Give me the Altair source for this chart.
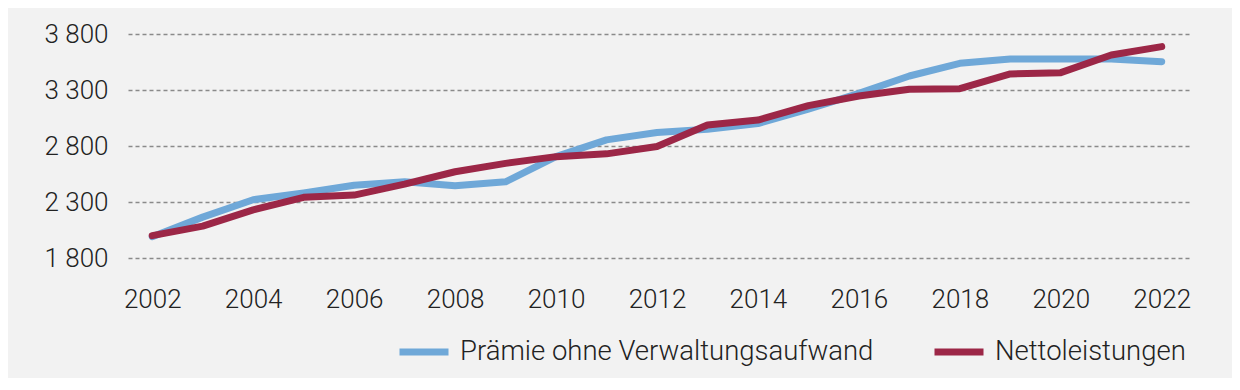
import altair as alt
import pandas as pd

years = list(range(2002, 2023))
praemie = [1990, 2165, 2320, 2380, 2450, 2480, 2445, 2480, 2705, 2855, 2920,
           2950, 3000, 3130, 3270, 3425, 3538, 3577, 3577, 3577, 3553]
netto = [2000, 2085, 2230, 2342, 2362, 2460, 2570, 2645, 2705, 2730, 2795,
         2988, 3032, 3160, 3246, 3306, 3312, 3443, 3455, 3612, 3687]
series_names = ["Prämie ohne Verwaltungsaufwand", "Nettoleistungen"]
series_colors = ["#6fa8d8", "#9c2747"]
x_ticks = list(range(2002, 2023, 2))
y_ticks = [1800, 2300, 2800, 3300, 3800]

rows = []
for i, y in enumerate(years):
    rows.append({"Jahr": y, "Serie": series_names[0], "Wert": praemie[i], "ord": 0})
    rows.append({"Jahr": y, "Serie": series_names[1], "Wert": netto[i], "ord": 1})
df = pd.DataFrame(rows)

FONT = "Roboto"

chart = alt.Chart(df).mark_line(
    strokeWidth=7, strokeCap="round", strokeJoin="round"
).encode(
    x=alt.X("Jahr:Q",
            scale=alt.Scale(domain=[2001.52, 2022.6], nice=False, zero=False),
            axis=alt.Axis(values=x_ticks, format="d", title=None, grid=False,
                          domain=False, ticks=False, labelPadding=28,
                          labelFontSize=26, labelFont=FONT, labelFontWeight=300,
                          labelColor="#222222")),
    y=alt.Y("Wert:Q",
            scale=alt.Scale(domain=[1800, 3800], nice=False, zero=False),
            axis=alt.Axis(values=y_ticks, title=None, domain=False, ticks=False,
                          labelExpr="replace(format(datum.value, ','), ',', ' ')",
                          labelPadding=20, labelFontSize=26, labelFont=FONT,
                          labelFontWeight=300, labelColor="#222222",
                          grid=True, gridDash=[4, 3], gridColor="#8a8a8a",
                          gridWidth=1.3)),
    color=alt.Color("Serie:N",
                    scale=alt.Scale(domain=series_names, range=series_colors),
                    legend=alt.Legend(title=None, orient="none", direction="horizontal",
                                      legendX=268, legendY=290,
                                      symbolType="stroke", symbolSize=2401,
                                      symbolStrokeWidth=7, labelFontSize=27.5,
                                      labelFont=FONT, labelFontWeight=300,
                                      labelColor="#222222", labelOffset=8,
                                      columnPadding=46, labelLimit=600)),
    order=alt.Order("ord:Q"),
    detail="Serie:N",
).properties(
    width=1064, height=224,
    padding={"left": 120, "top": 26, "right": 40, "bottom": 120},
    autosize=alt.AutoSizeParams(type="none"),
    background="#f2f2f2",
).configure_view(stroke=None)

chart.save("out.html", embed_options={"renderer": "svg", "actions": False})
